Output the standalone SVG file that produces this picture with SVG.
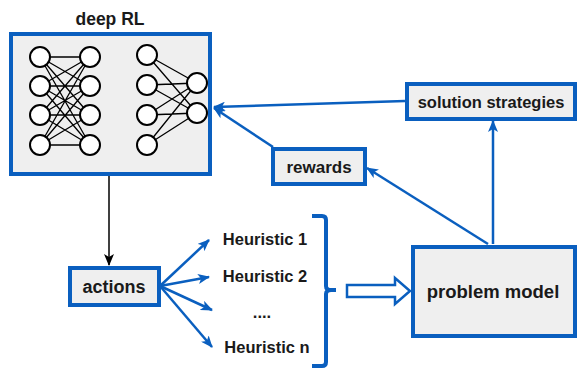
<svg xmlns="http://www.w3.org/2000/svg" width="579" height="371" viewBox="0 0 579 371">
<style>
.box{fill:#efefef;stroke:#0a5fbf;stroke-width:4}
.t{font-family:"Liberation Sans",Arial,sans-serif;font-weight:bold;font-size:16.5px;fill:#1a1a1a;text-anchor:middle}
.c{fill:none;stroke:#0a5fbf;stroke-width:2.5}
.n{fill:#fff;stroke:#000;stroke-width:2}
.e{stroke:#000;stroke-width:1.3}
</style>
<defs>
<marker id="ab" markerWidth="12" markerHeight="10" refX="11" refY="5" orient="auto" markerUnits="userSpaceOnUse">
<path d="M0,0 L12,5 L0,10 L3,5 Z" fill="#0a5fbf"/>
</marker>
<marker id="ak" markerWidth="12" markerHeight="10" refX="11" refY="5" orient="auto" markerUnits="userSpaceOnUse">
<path d="M0,0 L12,5 L0,10 L3,5 Z" fill="#000"/>
</marker>
</defs>
<g id="connectors">
<line x1="109" y1="176" x2="109" y2="265" stroke="#000" stroke-width="1.5" marker-end="url(#ak)"/>
<line class="c" x1="405" y1="101" x2="214" y2="107" marker-end="url(#ab)"/>
<line class="c" x1="273" y1="147" x2="214" y2="108" marker-end="url(#ab)"/>
<line class="c" x1="488" y1="244" x2="367" y2="168" marker-end="url(#ab)"/>
<line class="c" x1="493" y1="244" x2="493" y2="121" marker-end="url(#ab)"/>
<line class="c" x1="160" y1="286" x2="209" y2="240" marker-end="url(#ab)"/>
<line class="c" x1="160" y1="286" x2="209" y2="277" marker-end="url(#ab)"/>
<line class="c" x1="160" y1="286" x2="212" y2="310" marker-end="url(#ab)"/>
<line class="c" x1="160" y1="286" x2="212" y2="347" marker-end="url(#ab)"/>
<path d="M312,216 H322 Q326,216 326,220 V286 Q326,290 331,290 H336 M331,290 Q326,290 326,294 V362 Q326,366 322,366 H312" fill="none" stroke="#0a5fbf" stroke-width="4"/>
<path d="M347,285 H395 V278 L410,291 L395,304 V297 H347 Z" fill="#fff" stroke="#0a5fbf" stroke-width="2.5" stroke-linejoin="miter"/>
</g>
<g id="deep-rl">
<text class="t" x="110" y="25" style="font-size:17.5px">deep RL</text>
<rect class="box" x="11" y="34" width="199" height="140"/>
<g>
<path class="e" d="M40,57 L90,57 M40,57 L90,86 M40,57 L90,115 M40,57 L90,145
M40,86 L90,57 M40,86 L90,86 M40,86 L90,115 M40,86 L90,145
M40,115 L90,57 M40,115 L90,86 M40,115 L90,115 M40,115 L90,145
M40,145 L90,57 M40,145 L90,86 M40,145 L90,115 M40,145 L90,145
M147,55 L197,83 M147,55 L197,113 M147,85 L197,83 M147,85 L197,113
M147,115 L197,83 M147,115 L197,113 M147,145 L197,83 M147,145 L197,113"/>
<circle class="n" cx="40" cy="57" r="10"/><circle class="n" cx="40" cy="86" r="10"/>
<circle class="n" cx="40" cy="115" r="10"/><circle class="n" cx="40" cy="145" r="10"/>
<circle class="n" cx="90" cy="57" r="10"/><circle class="n" cx="90" cy="86" r="10"/>
<circle class="n" cx="90" cy="115" r="10"/><circle class="n" cx="90" cy="145" r="10"/>
<circle class="n" cx="147" cy="55" r="10"/><circle class="n" cx="147" cy="85" r="10"/>
<circle class="n" cx="147" cy="115" r="10"/><circle class="n" cx="147" cy="145" r="10"/>
<circle class="n" cx="197" cy="83" r="10"/><circle class="n" cx="197" cy="113" r="10"/>
</g>
</g>
<g id="solution-strategies">
<rect class="box" x="407" y="84" width="168" height="35"/>
<text class="t" x="491" y="107.5">solution strategies</text>
</g>
<g id="rewards">
<rect class="box" x="273" y="149" width="92" height="35"/>
<text class="t" x="319" y="172.5" style="font-size:17px">rewards</text>
</g>
<g id="actions">
<rect class="box" x="70" y="268" width="89" height="37"/>
<text class="t" x="114" y="293" style="font-size:18px">actions</text>
</g>
<g id="heuristics">
<text class="t" x="265" y="245">Heuristic 1</text>
<text class="t" x="265" y="282">Heuristic 2</text>
<text class="t" x="262" y="318">....</text>
<text class="t" x="267" y="353">Heuristic n</text>
</g>
<g id="problem-model">
<rect class="box" x="413" y="247" width="162" height="89"/>
<text class="t" x="493" y="298" style="font-size:18.5px">problem model</text>
</g>
</svg>
